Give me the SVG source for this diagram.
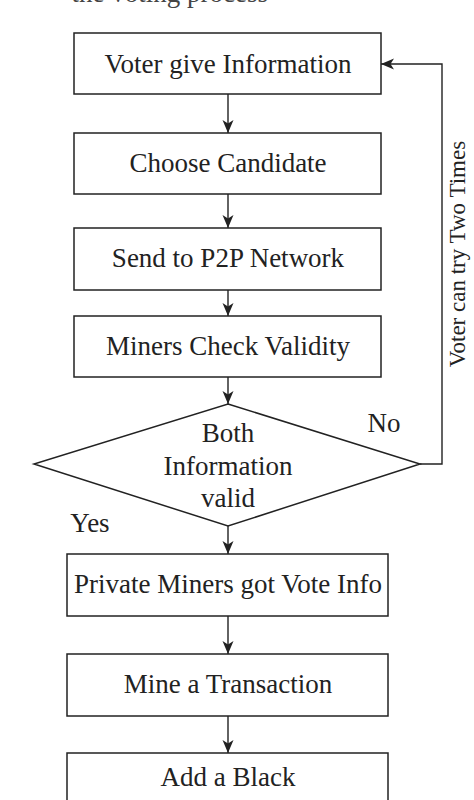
<svg xmlns="http://www.w3.org/2000/svg" width="474" height="800" viewBox="0 0 474 800">
<style>
text{font-family:"Liberation Serif","Times New Roman",serif;fill:#222;}
.lbl{font-size:27px;text-anchor:middle;}
.box{fill:#fff;stroke:#222;stroke-width:1.5;}
.con{fill:none;stroke:#222;stroke-width:1.4;}
</style>
<defs>
<marker id="arr" markerUnits="userSpaceOnUse" markerWidth="14" markerHeight="12" viewBox="0 0 14 12" refX="13" refY="6" orient="auto">
<path d="M0,0.5 L13,6 L0,11.5 L3.5,6 z" fill="#222"/>
</marker>
</defs>
<rect width="474" height="800" fill="#fff"/>
<text x="268" y="2" style="font-size:27px;text-anchor:end;fill:#444">the voting process</text>
<g id="connectors">
<line class="con" x1="228" y1="94" x2="228" y2="133" marker-end="url(#arr)"/>
<line class="con" x1="228" y1="194" x2="228" y2="228" marker-end="url(#arr)"/>
<line class="con" x1="228" y1="290" x2="228" y2="316" marker-end="url(#arr)"/>
<line class="con" x1="228" y1="377" x2="228" y2="404" marker-end="url(#arr)"/>
<line class="con" x1="228" y1="526" x2="228" y2="554" marker-end="url(#arr)"/>
<line class="con" x1="228" y1="616" x2="228" y2="654" marker-end="url(#arr)"/>
<line class="con" x1="228" y1="716" x2="228" y2="753" marker-end="url(#arr)"/>
<polyline class="con" points="420,464 442,464 442,64 381,64" marker-end="url(#arr)"/>
<text x="384" y="432" style="font-size:27px;text-anchor:middle">No</text>
<text x="90" y="532" style="font-size:27px;text-anchor:middle">Yes</text>
<text transform="translate(465,254) rotate(-90)" style="font-size:23px;text-anchor:middle">Voter can try Two Times</text>
</g>
<g id="n1"><rect class="box" x="74" y="33" width="307" height="61"/><text class="lbl" x="228" y="73">Voter give Information</text></g>
<g id="n2"><rect class="box" x="74" y="133" width="307" height="61"/><text class="lbl" x="228" y="172">Choose Candidate</text></g>
<g id="n3"><rect class="box" x="74" y="228" width="307" height="62"/><text class="lbl" x="228" y="267">Send to P2P Network</text></g>
<g id="n4"><rect class="box" x="74" y="316" width="307" height="61"/><text class="lbl" x="228" y="355">Miners Check Validity</text></g>
<g id="n5"><polygon class="box" points="228,404 420,464 228,526 34,464"/>
<text class="lbl" x="228" y="442">Both</text><text class="lbl" x="228" y="475">Information</text><text class="lbl" x="228" y="507">valid</text></g>
<g id="n6"><rect class="box" x="67" y="554" width="321" height="62"/><text class="lbl" x="228" y="593">Private Miners got Vote Info</text></g>
<g id="n7"><rect class="box" x="67" y="654" width="321" height="62"/><text class="lbl" x="228" y="693">Mine a Transaction</text></g>
<g id="n8"><rect class="box" x="67" y="753" width="321" height="62"/><text class="lbl" x="228" y="786">Add a Black</text></g>
</svg>
